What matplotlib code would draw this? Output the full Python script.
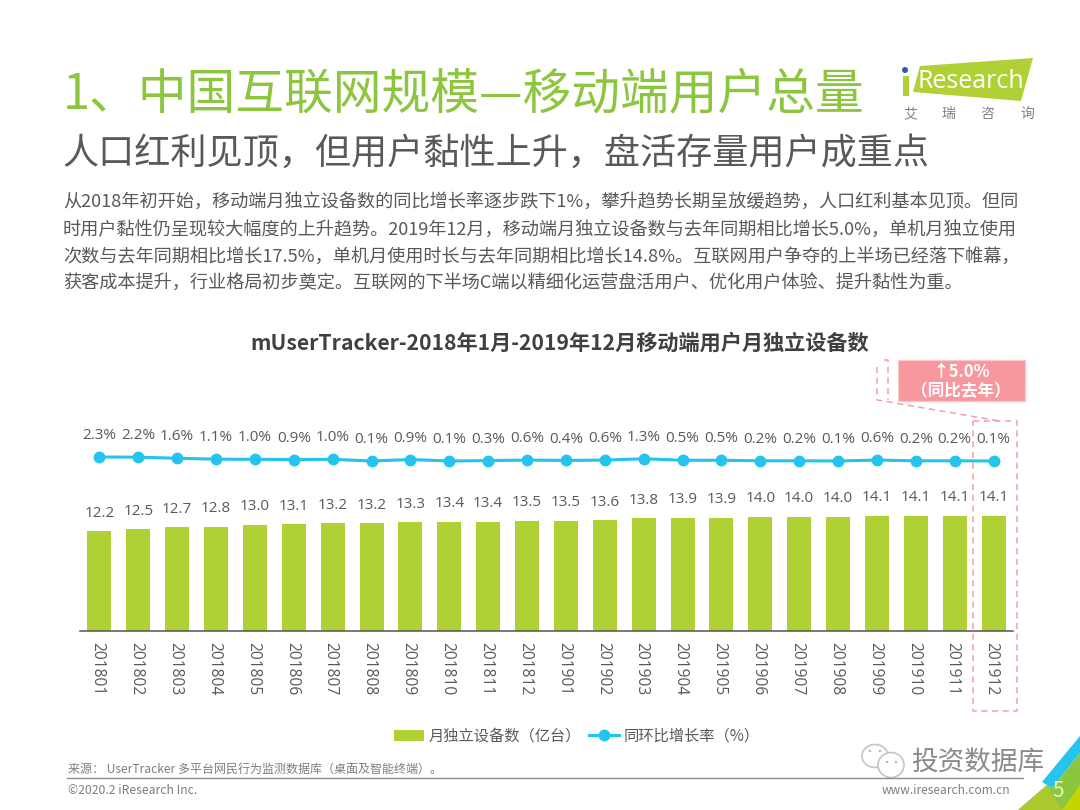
import matplotlib
matplotlib.use("Agg")
import matplotlib.pyplot as plt
from matplotlib.patches import Polygon, Rectangle, Circle, Ellipse
from matplotlib.lines import Line2D
from matplotlib.transforms import ScaledTranslation

plt.rcParams['font.family'] = ['Noto Sans CJK SC', 'DejaVu Sans']

months = ['201801','201802','201803','201804','201805','201806','201807','201808','201809','201810','201811','201812',
          '201901','201902','201903','201904','201905','201906','201907','201908','201909','201910','201911','201912']
devices = [12.2,12.5,12.7,12.8,13.0,13.1,13.2,13.2,13.3,13.4,13.4,13.5,13.5,13.6,13.8,13.9,13.9,14.0,14.0,14.0,14.1,14.1,14.1,14.1]
growth = [2.3,2.2,1.6,1.1,1.0,0.9,1.0,0.1,0.9,0.1,0.3,0.6,0.4,0.6,1.3,0.5,0.5,0.2,0.2,0.1,0.6,0.2,0.2,0.1]

title_main = '1、中国互联网规模—移动端用户总量'
title_sub = '人口红利见顶，但用户黏性上升，盘活存量用户成重点'
body_lines = ['从2018年初开始，移动端月独立设备数的同比增长率逐步跌下1%，攀升趋势长期呈放缓趋势，人口红利基本见顶。但同',
              '时用户黏性仍呈现较大幅度的上升趋势。2019年12月，移动端月独立设备数与去年同期相比增长5.0%，单机月独立使用',
              '次数与去年同期相比增长17.5%，单机月使用时长与去年同期相比增长14.8%。互联网用户争夺的上半场已经落下帷幕，',
              '获客成本提升，行业格局初步奠定。互联网的下半场C端以精细化运营盘活用户、优化用户体验、提升黏性为重。']
chart_title = 'mUserTracker-2018年1月-2019年12月移动端用户月独立设备数'
callout = ['↑5.0%', '（同比去年）']
legend_labels = ['月独立设备数（亿台）', '同环比增长率（%）']
source = '来源： UserTracker 多平台网民行为监测数据库（桌面及智能终端）。'

W, H = 1080, 810
LIME = '#AFD136'
GREEN = '#8CC63F'
BLUE = '#25C4EE'
PINK = '#F0A0AA'
TXT = '#595959'

fig = plt.figure(figsize=(W/100, H/100), dpi=100, facecolor='white')

# overlay in pixel coordinates
bg = fig.add_axes([0, 0, 1, 1], zorder=0)
bg.set_xlim(0, W); bg.set_ylim(H, 0); bg.axis('off')

bg.text(63, 95, title_main, fontsize=35.1, color=GREEN, va='center', ha='left', fontweight='light')
bg.text(62, 154, title_sub, fontsize=26, color=TXT, va='center', ha='left')
for y, line in zip([203, 230, 257, 284], body_lines):
    bg.text(63, y, line, fontsize=13.1, color=TXT, va='center', ha='left')
bg.text(560, 343, chart_title, fontsize=15.25, color='#404040', va='center', ha='center', fontweight='bold')

# logo
bg.add_patch(Polygon([[920, 66], [1033, 58], [1021, 101], [913, 92]], closed=True, fc=LIME, ec='none'))
bg.add_patch(Circle((905, 70), 3, fc='#2F5DA8', ec='none'))
bg.add_patch(Rectangle((903, 76), 6, 20, fc=LIME, ec='none'))
bg.text(917, 81, 'Research', fontsize=18, color='white', va='center', ha='left', family='Open Sans')
for x, ch in zip([910, 948, 987, 1027], '艾瑞咨询'):
    bg.text(x, 114, ch, fontsize=10, color='#7F7F7F', va='center', ha='center')

# callout and highlight
bg.add_patch(Rectangle((898, 360), 127, 41, fc='#F8979E', ec='#FBC4C8', lw=1, ls=(0, (3, 2))))
bg.text(961, 372, callout[0], fontsize=12, color='white', va='center', ha='center', fontweight='bold')
bg.text(961, 391, callout[1], fontsize=12, color='white', va='center', ha='center', fontweight='bold')
dash = dict(color=PINK, lw=1.1, ls=(0, (4, 3)))
bg.add_line(Line2D([973, 1017, 1017, 973, 973], [421, 421, 711, 711, 421], **dash))
bg.add_line(Line2D([877, 877, 1000], [367, 400, 421], **dash))
bg.add_line(Line2D([884, 888, 888], [360, 360, 400], **dash))

# footer
bg.text(68, 769, source, fontsize=8.65, color='#7F7F7F', va='center', ha='left')
bg.add_line(Line2D([67, 1023], [778, 778], color='#8C8C8C', lw=1))
bg.text(68, 791, '©2020.2 iResearch Inc.', fontsize=8.8, color='#7F7F7F', va='center', ha='left')
bg.text(1010, 791, 'www.iresearch.com.cn', fontsize=8.6, color='#7F7F7F', va='center', ha='right')

# corner shapes
bg.add_patch(Polygon([[1080, 736], [1080, 753], [1052, 788], [1042, 782]], closed=True, fc=BLUE, ec='none'))
bg.add_patch(Polygon([[1047, 785], [1052, 788], [1080, 753], [1080, 810], [1018, 810]], closed=True, fc=GREEN, ec='none'))
bg.add_patch(Polygon([[1018, 810], [1047, 785], [1062, 810]], closed=True, fc='#A9C92F', ec='none'))
bg.add_patch(Polygon([[1062, 810], [1080, 785], [1080, 810]], closed=True, fc='#C4D600', ec='none'))
bg.text(1058, 791, '5', fontsize=15, color='#EAF3B0', va='center', ha='center')

# watermark
bg.add_patch(Ellipse((875, 756), 26, 23, fc='white', ec='#C4C4C4', lw=1.2))
bg.add_patch(Ellipse((891, 765), 26, 25, fc='white', ec='#C4C4C4', lw=1.2))
for ex, ey in [(870, 751), (880, 751), (887, 762), (896, 762)]:
    bg.add_patch(Circle((ex, ey), 1.2, fc='#B5B5B5', ec='none'))
bg.text(978, 762, '投资数据库', fontsize=19.2, color='#8A8A8A', va='center', ha='center')

# chart axes
left, right, top, bottom = 80, 1013, 400, 631
rect = [left/W, 1-bottom/H, (right-left)/W, (bottom-top)/H]
ax = fig.add_axes(rect, zorder=2)
ax.patch.set_alpha(0)
x = list(range(len(months)))
bars = ax.bar(x, devices, width=0.62, color=LIME, label=legend_labels[0])
ax.set_xlim(-0.5, 23.5)
ax.set_ylim(0, 28.3)
ax.set_yticks([])
ax.set_xticks(x)
ax.set_xticklabels(months, rotation=-90, fontsize=11.2, color=TXT, family='Open Sans')
ax.tick_params(axis='x', length=0, pad=8)
shift = ScaledTranslation(-2/100, 0, fig.dpi_scale_trans)
for lab in ax.get_xticklabels():
    lab.set_transform(lab.get_transform() + shift)
for s in ['top', 'left', 'right']:
    ax.spines[s].set_visible(False)
ax.spines['bottom'].set_color('#555555')
ax.spines['bottom'].set_linewidth(1.1)
for xi, v in zip(x, devices):
    ax.annotate(f'{v:.1f}', (xi, v), xytext=(0, 7.5), textcoords='offset points', ha='center', va='bottom',
                fontsize=11, color=TXT, family='Open Sans')

ax2 = ax.twinx()
ax2.patch.set_alpha(0)
ax2.set_ylim(-93.3, 33.6)
ax2.set_yticks([])
for s in ax2.spines.values():
    s.set_visible(False)
line, = ax2.plot(x, growth, color=BLUE, lw=2.2, marker='o', ms=7.5, label=legend_labels[1])
for xi, v in zip(x, growth):
    ax2.annotate(f'{v:.1f}%', (xi, v), xytext=(0, 10), textcoords='offset points', ha='center', va='bottom',
                 fontsize=11, color=TXT, family='Open Sans')

leg = fig.legend(handles=[bars, line], labels=legend_labels, loc='center', bbox_to_anchor=(577/W, 1-736/H),
                 ncol=2, frameon=False, fontsize=11, labelcolor=TXT, columnspacing=0.5, handletextpad=0.3,
                 handlelength=1.95)

fig.savefig('out.png', dpi=100)
